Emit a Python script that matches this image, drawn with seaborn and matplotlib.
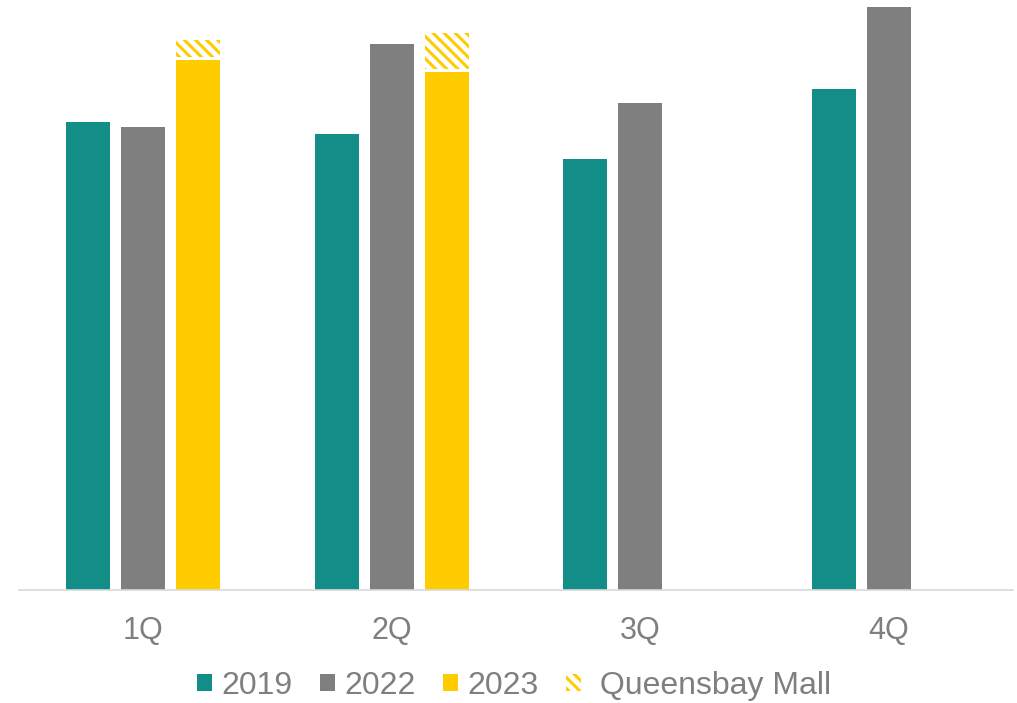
import numpy as np
import pandas as pd
import matplotlib
matplotlib.use("Agg")
import matplotlib.pyplot as plt
from matplotlib.patches import Patch
import seaborn as sns

quarters = ["1Q", "2Q", "3Q", "4Q"]
y2019 = [46.8, 45.6, 43.1, 50.1]
y2022 = [46.3, 54.6, 48.7, 58.3]
y2023 = [53.0, 51.8, np.nan, np.nan]
queensbay = [2.0, 3.9, np.nan, np.nan]
years = ["2019", "2022", "2023"]
colors = ["#138d87", "#7f7f7f", "#ffcc00"]

df = pd.DataFrame({
    "quarter": quarters * 3,
    "year": [y for y in years for _ in quarters],
    "value": y2019 + y2022 + y2023,
})

sns.set_theme(style="white")
plt.rcParams["font.family"] = ["Liberation Sans", "DejaVu Sans"]
plt.rcParams["hatch.linewidth"] = 2.2

fig = plt.figure(figsize=(10.17, 7.03), dpi=100)
ax = fig.add_axes([19 / 1017, (703 - 590) / 703, 994 / 1017, 590 / 703])

sns.barplot(data=df, x="quarter", y="value", hue="year", hue_order=years,
            palette=colors, width=0.666, gap=0.2, ax=ax, legend=False,
            saturation=1, edgecolor="none", linewidth=0)

# hatched Queensbay Mall segments on top of 2023 bars
gap = 0.35
bars2023 = [p for p in ax.containers[2]]
for i, extra in enumerate(queensbay):
    if np.isnan(extra):
        continue
    p = bars2023[i]
    ax.bar(p.get_x() + p.get_width() / 2, extra - gap, width=p.get_width(),
           bottom=y2023[i] + gap, facecolor="white", edgecolor="#ffcc00",
           hatch="\\\\\\", linewidth=0)

ax.set_xlim(-0.5, 3.5)
ax.set_ylim(0, 59.0)
ax.set_xlabel("")
ax.set_ylabel("")
ax.set_yticks([])
for s in ["top", "left", "right"]:
    ax.spines[s].set_visible(False)
ax.spines["bottom"].set_color("#d9d9d9")
ax.spines["bottom"].set_linewidth(1.2)
ax.tick_params(axis="x", length=0, pad=19, labelsize=22, labelcolor="#7f7f7f")

handles = [Patch(facecolor=c, edgecolor="none") for c in colors]
handles.append(Patch(facecolor="white", edgecolor="#ffcc00", hatch="\\\\\\", linewidth=0))
labels = years + [" Queensbay Mall"]
leg = fig.legend(handles, labels, loc="center", bbox_to_anchor=(514 / 1017, 1 - 686 / 703),
                 ncol=4, frameon=False, fontsize=23, handlelength=0.47, handleheight=0.47,
                 handletextpad=0.3, columnspacing=0.85, labelcolor="#7f7f7f",
                 borderaxespad=0, borderpad=0)

fig.savefig("out.png", dpi=100)
